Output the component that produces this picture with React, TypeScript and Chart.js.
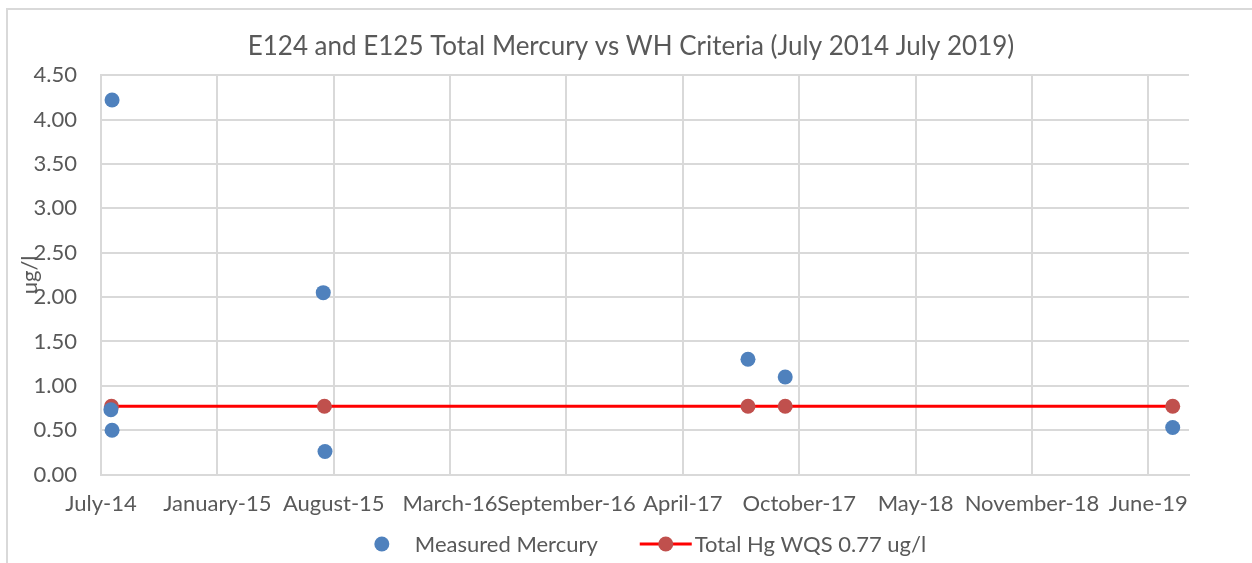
import React, { useEffect, useRef } from 'react';
import { Chart, registerables } from 'chart.js';

Chart.register(...registerables);

// ---- data ----
const chartTitle = 'E124 and E125 Total Mercury vs WH Criteria (July 2014 July 2019)';
const yAxisTitle = 'ug/l';
const seriesNames = ['Measured Mercury', 'Total Hg WQS 0.77 ug/l'];

const AXIS_START = '2014-07-10';
const X_STEP_DAYS = 200;
const X_MAX_DAYS = 1870;
const xTickLabels = [
  'July-14', 'January-15', 'August-15', 'March-16', 'September-16',
  'April-17', 'October-17', 'May-18', 'November-18', 'June-19',
];
const Y_MIN = 0;
const Y_MAX = 4.5;
const Y_STEP = 0.5;

const measuredDates = [
  '2014-07-29', '2014-07-27', '2014-07-29', '2015-07-27',
  '2015-07-30', '2017-07-26', '2017-09-28', '2019-07-26',
];
const measuredValues = [4.22, 0.73, 0.5, 2.05, 0.26, 1.3, 1.1, 0.53];

const criteriaDates = ['2014-07-28', '2015-07-29', '2017-07-26', '2017-09-28', '2019-07-26'];
const criteriaValues = [0.77, 0.77, 0.77, 0.77, 0.77];

// ---- styles ----
const FONT = 'Lato, "Open Sans", sans-serif';
const TEXT_COLOR = '#595959';
const GRID_COLOR = '#d9d9d9';
const BLUE = '#4f81bd';
const RED_MARK = '#c0504d';
const RED_LINE = '#ff0000';
const TICK_SIZE = 22;

const dayOffset = (d: string) => (Date.parse(d) - Date.parse(AXIS_START)) / 86400000;

const borderPlugin = {
  id: 'outerBorder',
  beforeDraw(chart: any) {
    const c = chart.ctx;
    c.save();
    c.strokeStyle = GRID_COLOR;
    c.lineWidth = 2;
    c.strokeRect(7, 9, 3000, 3000);
    c.restore();
  },
};

const legendPlugin = {
  id: 'customLegend',
  afterDraw(chart: any) {
    const c = chart.ctx;
    c.save();
    c.font = `${TICK_SIZE}px ${FONT}`;
    c.fillStyle = TEXT_COLOR;
    c.textBaseline = 'middle';
    c.textAlign = 'left';
    const symW = 52;
    const gap1 = 7;
    const gap2 = 3;
    const between = 42;
    const w1 = c.measureText(seriesNames[0]).width;
    const w2 = c.measureText(seriesNames[1]).width;
    const total = symW + gap1 + w1 + between + symW + gap2 + w2;
    const cy = 544;
    let x = 641 - total / 2;
    // blue marker
    c.beginPath();
    c.fillStyle = BLUE;
    c.arc(x + symW / 2, cy, 7.5, 0, Math.PI * 2);
    c.fill();
    x += symW + gap1;
    c.fillStyle = TEXT_COLOR;
    c.fillText(seriesNames[0], x, cy + 1);
    x += w1 + between;
    // red line + marker
    c.strokeStyle = RED_LINE;
    c.lineWidth = 3;
    c.beginPath();
    c.moveTo(x, cy);
    c.lineTo(x + symW, cy);
    c.stroke();
    c.beginPath();
    c.fillStyle = RED_MARK;
    c.arc(x + symW / 2, cy, 7.5, 0, Math.PI * 2);
    c.fill();
    x += symW + gap2;
    c.fillStyle = TEXT_COLOR;
    c.fillText(seriesNames[1], x, cy + 1);
    c.restore();
  },
};

export default function App() {
  const canvasRef = useRef<HTMLCanvasElement | null>(null);

  useEffect(() => {
    if (!canvasRef.current) return;
    const chart = new Chart(canvasRef.current, {
      type: 'scatter',
      data: {
        datasets: [
          {
            label: seriesNames[0],
            data: measuredDates.map((d, i) => ({ x: dayOffset(d), y: measuredValues[i] })),
            showLine: false,
            backgroundColor: BLUE,
            borderColor: BLUE,
            pointRadius: 7.5,
            pointHoverRadius: 7.5,
            pointBorderWidth: 0,
          },
          {
            label: seriesNames[1],
            data: criteriaDates.map((d, i) => ({ x: dayOffset(d), y: criteriaValues[i] })),
            showLine: true,
            borderColor: RED_LINE,
            borderWidth: 3,
            backgroundColor: RED_MARK,
            pointBackgroundColor: RED_MARK,
            pointRadius: 7.5,
            pointHoverRadius: 7.5,
            pointBorderWidth: 0,
          },
        ],
      },
      options: {
        animation: false,
        responsive: false,
        maintainAspectRatio: false,
        events: [],
        layout: { padding: { left: 10, right: 0, top: 0, bottom: 30 } },
        plugins: {
          legend: { display: false },
          tooltip: { enabled: false },
          title: {
            display: true,
            text: chartTitle,
            color: TEXT_COLOR,
            font: { family: FONT, size: 26, weight: 'normal' },
            padding: { top: 31, bottom: 13 },
          },
        },
        scales: {
          x: {
            type: 'linear',
            min: 0,
            max: X_MAX_DAYS,
            afterBuildTicks(scale: any) {
              scale.ticks = xTickLabels.map((_, i) => ({ value: i * X_STEP_DAYS }));
            },
            afterFit(scale: any) {
              scale.paddingRight = 63;
            },
            grid: { color: GRID_COLOR, lineWidth: 2, drawTicks: false },
            border: { color: GRID_COLOR, width: 2 },
            ticks: {
              autoSkip: false,
              maxRotation: 0,
              minRotation: 0,
              padding: 16,
              color: TEXT_COLOR,
              font: { family: FONT, size: TICK_SIZE },
              callback: (v: any) => xTickLabels[Math.round(Number(v) / X_STEP_DAYS)] ?? '',
            },
          },
          y: {
            type: 'linear',
            min: Y_MIN,
            max: Y_MAX,
            afterFit(scale: any) {
              scale.width = 91;
            },
            grid: { color: GRID_COLOR, lineWidth: 2, drawTicks: false },
            border: { color: GRID_COLOR, width: 2 },
            title: {
              display: true,
              text: yAxisTitle,
              color: TEXT_COLOR,
              font: { family: FONT, size: TICK_SIZE },
              padding: { top: 7, bottom: 0 },
            },
            ticks: {
              stepSize: Y_STEP,
              padding: 24,
              color: TEXT_COLOR,
              font: { family: FONT, size: TICK_SIZE },
              callback: (v: any) => Number(v).toFixed(2),
            },
          },
        },
      },
      plugins: [borderPlugin, legendPlugin],
    } as any);
    return () => chart.destroy();
  }, []);

  return (
    <div style={{ position: 'fixed', left: 0, top: 0, width: 1252, height: 563, background: '#fff' }}>
      <canvas ref={canvasRef} width={1252} height={563} style={{ width: 1252, height: 563, display: 'block' }} />
    </div>
  );
}
